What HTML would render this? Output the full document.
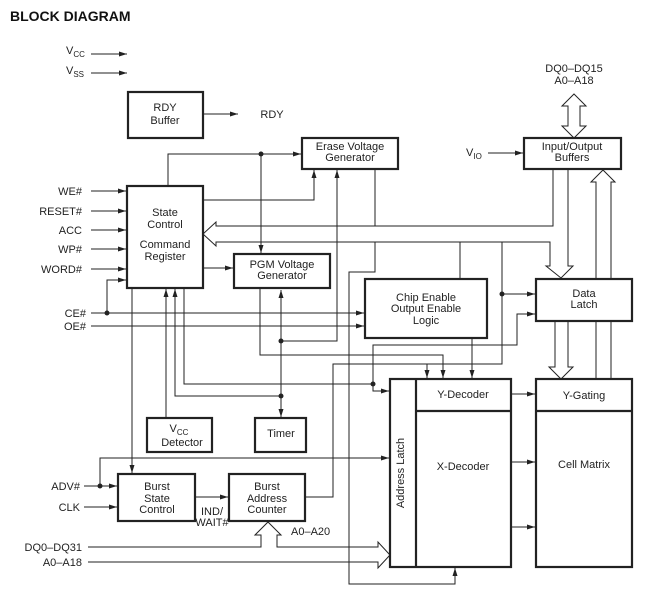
<!DOCTYPE html>
<html><head><meta charset="utf-8"><style>
html,body{margin:0;padding:0;background:#fff}
svg{display:block}
text{font-family:"Liberation Sans",sans-serif;font-size:11px;fill:#222}
</style></head><body>
<svg width="651" height="598" viewBox="0 0 651 598" xmlns="http://www.w3.org/2000/svg">
<defs>
<marker id="a" markerWidth="8" markerHeight="6" refX="8" refY="3" orient="auto" markerUnits="userSpaceOnUse"><path d="M0,0.5 L8,3 L0,5.5 Z" fill="#222"/></marker>
</defs>
<text x="10" y="21" style="font-size:14px;font-weight:bold;fill:#111">BLOCK DIAGRAM</text>
<g stroke="#222" stroke-width="1" fill="none">
<line x1="91" y1="54" x2="127" y2="54" marker-end="url(#a)"/>
<line x1="91" y1="73" x2="127" y2="73" marker-end="url(#a)"/>
<line x1="203" y1="114" x2="238" y2="114" marker-end="url(#a)"/>
<line x1="91" y1="191" x2="126" y2="191" marker-end="url(#a)"/>
<line x1="91" y1="211" x2="126" y2="211" marker-end="url(#a)"/>
<line x1="91" y1="230" x2="126" y2="230" marker-end="url(#a)"/>
<line x1="91" y1="249" x2="126" y2="249" marker-end="url(#a)"/>
<line x1="91" y1="269" x2="126" y2="269" marker-end="url(#a)"/>
<polyline points="107,313 107,280 126,280" marker-end="url(#a)"/>
<line x1="91" y1="313" x2="364" y2="313" marker-end="url(#a)"/>
<line x1="91" y1="326" x2="364" y2="326" marker-end="url(#a)"/>
<polyline points="168,186 168,154 301,154" marker-end="url(#a)"/>
<line x1="261" y1="154" x2="261" y2="253" marker-end="url(#a)"/>
<polyline points="203,200 314,200 314,170" marker-end="url(#a)"/>
<line x1="203" y1="268" x2="233" y2="268" marker-end="url(#a)"/>
<polyline points="553,169 553,226 216,226 216,222 203,234 216,246 216,242 550,242 550,266 546,266 561,278 573,266 568,266 568,169"/>
<line x1="337" y1="226" x2="337" y2="170" marker-end="url(#a)"/>
<line x1="375" y1="169" x2="375" y2="226"/>
<line x1="132" y1="288" x2="132" y2="473" marker-end="url(#a)"/>
<line x1="166" y1="418" x2="166" y2="289" marker-end="url(#a)"/>
<polyline points="281,396 175,396 175,289" marker-end="url(#a)"/>
<polyline points="184,288 184,384 373,384 373,391 389,391" marker-end="url(#a)"/>
<polyline points="260,288 260,355 443,355 443,378" marker-end="url(#a)"/>
<line x1="281" y1="418" x2="281" y2="290" marker-end="url(#a)"/>
<line x1="281" y1="396" x2="281" y2="417" marker-end="url(#a)"/>
<polyline points="281,341 337,341 337,226"/>
<polyline points="375,242 375,272 349,272 349,584 455,584 455,568" marker-end="url(#a)"/>
<polyline points="373,384 373,345 517,345 517,314 535,314" marker-end="url(#a)"/>
<polyline points="305,497 333,497 333,364 502,364 502,242"/>
<line x1="427" y1="364" x2="427" y2="378" marker-end="url(#a)"/>
<line x1="472" y1="338" x2="472" y2="378" marker-end="url(#a)"/>
<line x1="460" y1="242" x2="460" y2="279"/>
<line x1="502" y1="294" x2="535" y2="294" marker-end="url(#a)"/>
<line x1="488" y1="153" x2="523" y2="153" marker-end="url(#a)"/>
<polygon points="574,94 586,106 580,106 580,126 586,126 574,138 562,126 568,126 568,106 562,106"/>
<polygon points="555,321 555,367 549,367 561,379 573,367 568,367 568,321"/>
<polygon points="596,379 596,182 591,182 603,170 615,182 611,182 611,379"/>
<line x1="84" y1="486" x2="117" y2="486" marker-end="url(#a)"/>
<polyline points="100,486 100,458 389,458" marker-end="url(#a)"/>
<line x1="84" y1="507" x2="117" y2="507" marker-end="url(#a)"/>
<line x1="195" y1="497" x2="228" y2="497" marker-end="url(#a)"/>
<polyline points="88,547 261,547 261,535 255,535 268,522 281,535 277,535 277,547 378,547 378,542 390,555 378,568 378,562 88,562"/>
<line x1="511" y1="394" x2="535" y2="394" marker-end="url(#a)"/>
<line x1="511" y1="462" x2="535" y2="462" marker-end="url(#a)"/>
<line x1="511" y1="527" x2="535" y2="527" marker-end="url(#a)"/>
</g>
<g fill="#222">
<circle cx="261" cy="154" r="2.5"/><circle cx="107" cy="313" r="2.5"/>
<circle cx="281" cy="341" r="2.5"/><circle cx="281" cy="396" r="2.5"/>
<circle cx="373" cy="384" r="2.5"/><circle cx="502" cy="294" r="2.5"/>
<circle cx="100" cy="486" r="2.5"/>
</g>
<g stroke="#222" stroke-width="2.2" fill="#fff">
<rect x="128" y="92" width="75" height="46"/>
<rect x="127" y="186" width="76" height="102"/>
<rect x="302" y="138" width="96" height="31"/>
<rect x="234" y="254" width="96" height="34"/>
<rect x="524" y="138" width="97" height="31"/>
<rect x="536" y="279" width="96" height="42"/>
<rect x="365" y="279" width="122" height="59"/>
<rect x="147" y="418" width="65" height="34"/>
<rect x="255" y="418" width="51" height="34"/>
<rect x="118" y="474" width="77" height="47"/>
<rect x="229" y="474" width="76" height="47"/>
<rect x="390" y="379" width="121" height="188"/>
<rect x="536" y="379" width="96" height="188"/>
<line x1="416" y1="379" x2="416" y2="567"/>
<line x1="416" y1="411" x2="511" y2="411"/>
<line x1="536" y1="411" x2="632" y2="411"/>
</g>
<g text-anchor="middle">
<text x="165" y="111">RDY</text><text x="165" y="124">Buffer</text>
<text x="272" y="118">RDY</text>
<text x="165" y="216">State</text><text x="165" y="228">Control</text>
<text x="165" y="248">Command</text><text x="165" y="260">Register</text>
<text x="350" y="150">Erase Voltage</text><text x="350" y="161">Generator</text>
<text x="282" y="268">PGM Voltage</text><text x="282" y="279">Generator</text>
<text x="572" y="150">Input/Output</text><text x="572" y="161">Buffers</text>
<text x="584" y="297">Data</text><text x="584" y="308">Latch</text>
<text x="426" y="301">Chip Enable</text><text x="426" y="312">Output Enable</text><text x="426" y="324">Logic</text>
<text x="179" y="432">V<tspan font-size="8" dy="3">CC</tspan></text><text x="182" y="446">Detector</text>
<text x="281" y="437">Timer</text>
<text x="157" y="490">Burst</text><text x="157" y="502">State</text><text x="157" y="513">Control</text>
<text x="267" y="490">Burst</text><text x="267" y="502">Address</text><text x="267" y="513">Counter</text>
<text x="463" y="398">Y-Decoder</text><text x="463" y="470">X-Decoder</text>
<text x="584" y="399">Y-Gating</text><text x="584" y="468">Cell Matrix</text>
<text x="574" y="72">DQ0–DQ15</text><text x="574" y="84">A0–A18</text>
<text x="212" y="515">IND/</text><text x="212" y="526">WAIT#</text>
</g>
<text x="404" y="473" text-anchor="middle" transform="rotate(-90 404 473)">Address Latch</text>
<g text-anchor="end">
<text x="82" y="195">WE#</text><text x="82" y="215">RESET#</text><text x="82" y="234">ACC</text>
<text x="82" y="253">WP#</text><text x="82" y="273">WORD#</text>
<text x="86" y="317">CE#</text><text x="86" y="330">OE#</text>
<text x="80" y="490">ADV#</text><text x="80" y="511">CLK</text>
<text x="82" y="551">DQ0–DQ31</text><text x="82" y="566">A0–A18</text>
</g>
<text x="291" y="535">A0–A20</text>
<text x="66" y="54">V<tspan font-size="8" dy="3">CC</tspan></text>
<text x="66" y="74">V<tspan font-size="8" dy="3">SS</tspan></text>
<text x="466" y="156">V<tspan font-size="8" dy="3">IO</tspan></text>
</svg>
</body></html>
